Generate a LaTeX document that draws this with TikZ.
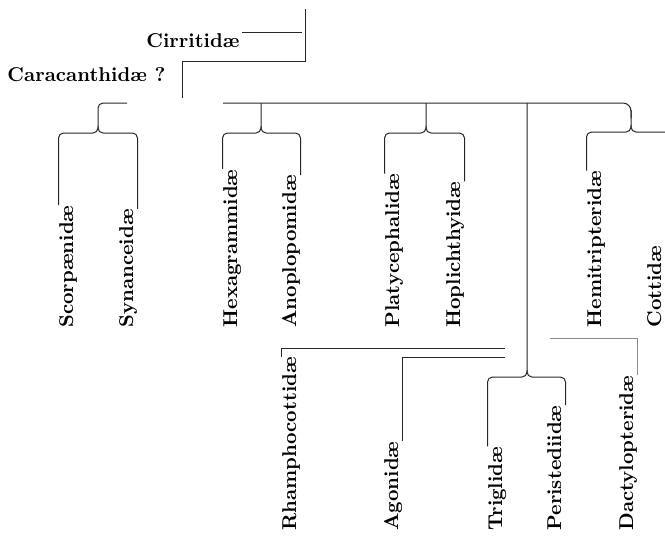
\documentclass[tikz,border=0pt]{standalone}
\usetikzlibrary{calc}
\tikzset{
  fam/.style={rotate=90, anchor=west, inner sep=0pt, text height=7pt, text depth=2pt, font=\bfseries},
  hname/.style={inner sep=0pt, font=\bfseries},
  rc/.style={rounded corners=2.5pt},
}

\begin{document}
\begin{tikzpicture}[x=0.5pt,y=-0.5pt, line width=0.5pt, draw=black!85]
		%\draw[help lines] (0,0) grid (665,538);
		\useasboundingbox (0,0) rectangle (665,538);
		\clip (0,0) rectangle (665,538);
		
		\node[hname, anchor=base east] (cirr) at (240,47) {Cirritidæ};
		\node[hname, anchor=base west] (cara) at (7,81) {Caracanthidæ ?};
		
		\node[fam] (scorp) at (68,328) {Scorpænidæ};
		\node[fam] (synan) at (128,328) {Synanceidæ};
		\node[fam] (hexa) at (232,328) {Hexagrammidæ};
		\node[fam] (anop) at (291,328) {Anoplopomidæ};
		\node[fam] (platy) at (394,328) {Platycephalidæ};
		\node[fam] (hopl) at (455,328) {Hoplichthyidæ};
		\node[fam] (hemi) at (596,328) {Hemitripteridæ};
		\node[fam] (cott) at (656,328) {Cottidæ};
		
		\node[fam] (rham) at (291,531) {Rhamphocottidæ};
		\node[fam] (agon) at (393,531) {Agonidæ};
		\node[fam] (trig) at (497,531) {Triglidæ};
		\node[fam] (peri) at (556,531) {Peristediidæ};
		\node[fam] (dact) at (628,531) {Dactylopteridæ};
		
		\coordinate (top) at (305,9);
		\coordinate (j1) at (305,61.5);
		\coordinate (j2) at (182,61.5);
		\coordinate (j3) at (182,98);
		\coordinate (r1) at (505,348.5);
		\coordinate (r2) at (505,357.5);
		\coordinate (d1) at (550,338.5);
		
		\draw ([xshift=1pt]cirr.north east) -- ++(60,0);%cirritidae
		\draw (top) -- (j1) -- (j2) -- (j3);
		
		\draw[rc] (scorp.north east) |- (98,133) -- (98,103) -- (127,103);%brace
		\draw[rc] (synan.south east) |- (98,133) -- (98,126);
		
		\draw[rounded corners=4pt] (223,103) -- (631,103) -- (631,118);%main line
		\draw[rc] (631,110) -- (631,132) -| (hemi.north east);%brace
		\draw[rc] (666,132) -- (631,132) -- (631,125);
		
		\draw[rc] (hexa.north east) |- (261,133) -- (261,103);%brace
		\draw[rc] (anop.south east) |- (261,133) -- (261,126);
		
		\draw[rc] (platy.north east) |- (426,133) -- (426,103);%brace
		\draw[rc] (hopl.south east) |- (426,133) -- (426,126);
		
		\draw[rc] (trig.north east) |- (527,377) -- (527,103);%brace
		\draw[rc] (peri.south east) |- (527,377) -- (527,370);
		
		\draw (rham.north east) |- (r1);
		\draw (agon.south east) |- (r2);
		\draw[black!45] (dact.south east) |- (d1);
\end{tikzpicture}
\end{document}
